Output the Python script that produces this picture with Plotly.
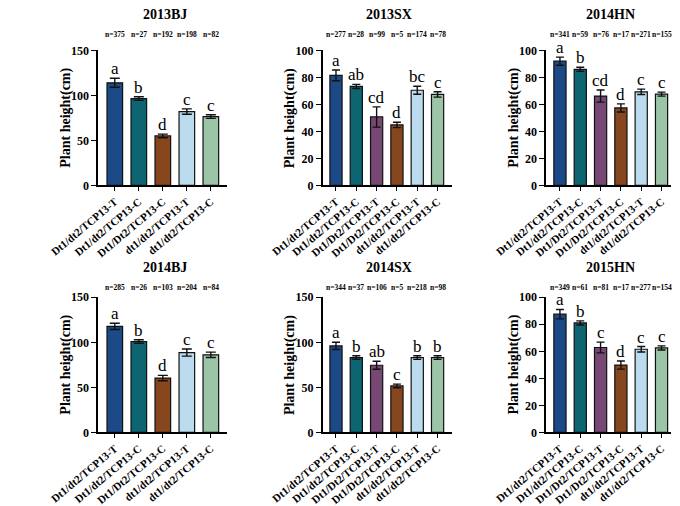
import plotly.graph_objects as go

# ---------------- data ----------------
groups5 = ["Dt1/dt2/TCP13-T", "Dt1/dt2/TCP13-C", "Dt1/Dt2/TCP13-C", "dt1/dt2/TCP13-T", "dt1/dt2/TCP13-C"]
groups6 = ["Dt1/dt2/TCP13-T", "Dt1/dt2/TCP13-C", "Dt1/Dt2/TCP13-T", "Dt1/Dt2/TCP13-C", "dt1/dt2/TCP13-T", "dt1/dt2/TCP13-C"]

bj13_mean = [114, 96.5, 55, 82, 76.5]
bj13_err = [5, 2, 2, 3, 2]
bj13_n = [375, 27, 192, 198, 82]
bj13_let = ["a", "b", "d", "c", "c"]

sx13_mean = [81.5, 73.3, 50.7, 44.8, 70.5, 67.4]
sx13_err = [4, 1.5, 7.5, 2, 3, 2]
sx13_n = [277, 28, 99, 5, 174, 78]
sx13_let = ["a", "ab", "cd", "d", "bc", "c"]

hn14_mean = [92, 86, 66.2, 57.4, 69.3, 67.6]
hn14_err = [3, 1.5, 4.5, 3, 2, 1.5]
hn14_n = [341, 59, 76, 17, 271, 155]
hn14_let = ["a", "b", "cd", "d", "c", "c"]

bj14_mean = [117.7, 100.9, 60.3, 88.6, 86.1]
bj14_err = [3.5, 2, 3, 4, 3]
bj14_n = [285, 26, 103, 204, 84]
bj14_let = ["a", "b", "d", "c", "c"]

sx14_mean = [96, 83, 74.5, 51.5, 83, 83]
sx14_err = [4, 2, 4.5, 2, 2, 2]
sx14_n = [344, 37, 106, 5, 218, 98]
sx14_let = ["a", "b", "ab", "c", "b", "b"]

hn15_mean = [87.5, 81, 62.8, 49.8, 61.5, 62.5]
hn15_err = [3.5, 1.5, 4, 3, 2, 1.5]
hn15_n = [349, 61, 81, 17, 277, 154]
hn15_let = ["a", "b", "c", "d", "c", "c"]

titles = ["2013BJ", "2013SX", "2014HN", "2014BJ", "2014SX", "2015HN"]
y_title = "Plant height(cm)"

color_map = {
    "Dt1/dt2/TCP13-T": "#1B4A86",
    "Dt1/dt2/TCP13-C": "#0D6571",
    "Dt1/Dt2/TCP13-T": "#764873",
    "Dt1/Dt2/TCP13-C": "#86471F",
    "dt1/dt2/TCP13-T": "#BBDBEE",
    "dt1/dt2/TCP13-C": "#9CC4A6",
}

panels = [
    (groups5, bj13_mean, bj13_err, bj13_n, bj13_let, 150, 50),
    (groups6, sx13_mean, sx13_err, sx13_n, sx13_let, 100, 20),
    (groups6, hn14_mean, hn14_err, hn14_n, hn14_let, 100, 20),
    (groups5, bj14_mean, bj14_err, bj14_n, bj14_let, 150, 50),
    (groups6, sx14_mean, sx14_err, sx14_n, sx14_let, 150, 50),
    (groups6, hn15_mean, hn15_err, hn15_n, hn15_let, 100, 20),
]

# ---------------- layout geometry (pixels) ----------------
W, H = 680, 506
# (axis start px, first centre px, spacing px, axis end px, bar width frac)
col_geo = [
    (50, 68, 26, 190, 0.65),
    (293, 307.5, 22, 433, 0.6),
    (535, 550, 22, 670, 0.6),
]
row_geo = [(45, 185, 28, 8), (301, 441, 291, 270)]  # top px, bottom px, n-label px, title px

FONT = "Liberation Serif, Times New Roman, serif"

fig = go.Figure()
annotations = []
layout = {}

for i, (grp, mean, err, ns, lets, ymax, dt) in enumerate(panels):
    r, c = divmod(i, 3)
    x0, c1, s, x1, bw = col_geo[c]
    top, bot, ny, ty = row_geo[r]
    k = i + 1
    xa = "x" if k == 1 else f"x{k}"
    ya = "y" if k == 1 else f"y{k}"
    xname = "xaxis" if k == 1 else f"xaxis{k}"
    yname = "yaxis" if k == 1 else f"yaxis{k}"

    fig.add_trace(go.Bar(
        x=grp, y=mean, xaxis=xa, yaxis=ya,
        width=bw,
        marker=dict(color=[color_map[g] for g in grp], line=dict(color="#111111", width=1.2)),
        error_y=dict(type="data", array=err, visible=True, color="#111111", thickness=1.4,
                     width=5 if len(grp) == 5 else 4),
        showlegend=False, hoverinfo="skip",
    ))

    layout[xname] = dict(
        domain=[x0 / W, x1 / W], anchor=ya,
        range=[(x0 - c1) / s, (x1 - c1) / s],
        type="category",
        showline=True, linecolor="black", linewidth=1.5,
        ticks="outside", ticklen=4, tickwidth=1.2, tickcolor="black",
        tickangle=-40,
        tickfont=dict(family=FONT, size=11, color="black", weight="bold"),
        showgrid=False, zeroline=False, fixedrange=True,
    )
    layout[yname] = dict(
        domain=[1 - bot / H, 1 - top / H], anchor=xa,
        range=[0, ymax],
        tickvals=list(range(0, ymax + 1, dt)),
        showline=True, linecolor="black", linewidth=1.5,
        ticks="outside", ticklen=5, tickwidth=1.2, tickcolor="black",
        tickfont=dict(family=FONT, size=12, color="black", weight="bold"),
        showgrid=False, zeroline=False, fixedrange=True,
    )

    # panel title
    annotations.append(dict(
        text=titles[i], xref="paper", yref="paper",
        x=((x0 + x1) / 2 + 2) / W, y=1 - ty / H, xanchor="center", yanchor="middle",
        showarrow=False, font=dict(family=FONT, size=14, color="black", weight="bold"),
    ))
    # y-axis title
    annotations.append(dict(
        text=y_title, xref="paper", yref="paper", textangle=-90,
        x=(x0 - 35) / W, y=1 - ((top + bot) / 2) / H, xanchor="center", yanchor="middle",
        showarrow=False, font=dict(family=FONT, size=14, color="black", weight="bold"),
    ))
    for g, m, e, n, l in zip(grp, mean, err, ns, lets):
        annotations.append(dict(
            text=f"n={n}", xref=xa, yref="paper", x=g, y=1 - ny / H,
            xanchor="center", yanchor="middle", showarrow=False, borderpad=0,
            font=dict(family=FONT, size=7.5, color="black", weight="bold"),
        ))
        annotations.append(dict(
            text=l, xref=xa, yref=ya, x=g, y=m + e,
            xanchor="center", yanchor="bottom", yshift=-1, showarrow=False, borderpad=0,
            font=dict(family=FONT, size=17, color="black"),
        ))

fig.update_layout(
    width=W, height=H,
    margin=dict(l=0, r=0, t=0, b=0),
    paper_bgcolor="white", plot_bgcolor="white",
    bargap=0.3,
    annotations=annotations,
    **layout,
)

fig.write_html("out.html")
